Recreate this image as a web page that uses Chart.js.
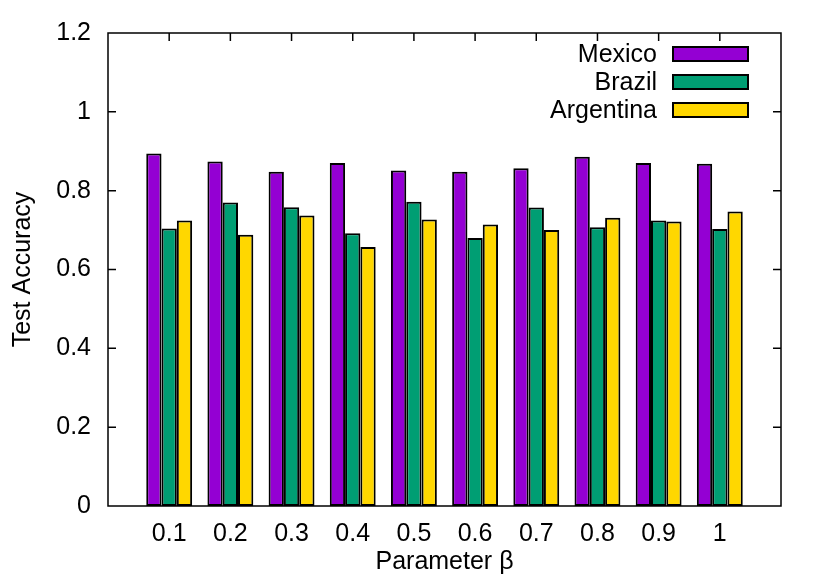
<!DOCTYPE html>
<html>
<head>
<meta charset="utf-8">
<script src="https://cdn.jsdelivr.net/npm/chart.js@4/dist/chart.umd.min.js"></script>
<style>
html,body{margin:0;padding:0;background:#fff;}
#wrap{width:830px;height:581px;position:relative;}
</style>
</head>
<body>
<div id="wrap"><canvas id="c" width="830" height="581"></canvas></div>
<script>
const categories = ['0.1','0.2','0.3','0.4','0.5','0.6','0.7','0.8','0.9','1'];
const mexico    = [0.894,0.874,0.848,0.870,0.851,0.848,0.857,0.886,0.870,0.868];
const brazil    = [0.704,0.770,0.758,0.692,0.772,0.680,0.757,0.707,0.724,0.703];
const argentina = [0.724,0.688,0.737,0.657,0.727,0.714,0.700,0.731,0.722,0.747];
const yTicks = ['0','0.2','0.4','0.6','0.8','1','1.2'];
const seriesNames = ['Mexico','Brazil','Argentina'];
const seriesColors = ['#9400D3','#009E73','#FFD700'];

const FONT = "'Liberation Sans', Arial, Helvetica, sans-serif";
const FS = 25;
Chart.defaults.font.family = FONT;
Chart.defaults.color = '#000';

function toPoints(arr){ return arr.map((v,i)=>({x:i+1,y:v})); }

const frame = {
  id:'frame',
  afterDatasetsDraw(chart){
    const {ctx, chartArea:a, scales} = chart;
    ctx.save();
    ctx.strokeStyle = '#000';
    ctx.lineWidth = 1.5;
    const tl = 8;
    for (let i=1;i<yTicks.length-1;i++){
      const py = scales.y.getPixelForValue(parseFloat(yTicks[i]));
      ctx.beginPath();
      ctx.moveTo(a.left, py); ctx.lineTo(a.left+tl, py);
      ctx.moveTo(a.right, py); ctx.lineTo(a.right-tl, py);
      ctx.stroke();
    }
    for (let i=0;i<categories.length;i++){
      const px = scales.x.getPixelForValue(i+1);
      ctx.beginPath();
      ctx.moveTo(px, a.top); ctx.lineTo(px, a.top+tl);
      ctx.stroke();
    }
    ctx.strokeRect(a.left, a.top, a.right-a.left, a.bottom-a.top);
    // legend
    ctx.font = FS + 'px ' + FONT;
    ctx.textAlign = 'right';
    ctx.textBaseline = 'middle';
    const ds = chart.data.datasets;
    for (let i=0;i<ds.length;i++){
      const cy = 54 + i*28;
      ctx.fillStyle = '#000';
      ctx.fillText(ds[i].label, 657, cy+1);
      ctx.fillStyle = ds[i].backgroundColor;
      ctx.fillRect(673, cy-7, 75, 14);
      ctx.lineWidth = 2;
      ctx.strokeRect(673, cy-7, 75, 14);
    }
    ctx.restore();
  }
};

new Chart(document.getElementById('c'), {
  type:'bar',
  data:{
    datasets:[
      {label:seriesNames[0], data:toPoints(mexico), backgroundColor:seriesColors[0]},
      {label:seriesNames[1], data:toPoints(brazil), backgroundColor:seriesColors[1]},
      {label:seriesNames[2], data:toPoints(argentina), backgroundColor:seriesColors[2]}
    ].map(d=>Object.assign(d,{borderColor:'#000',borderWidth:2,borderSkipped:false,categoryPercentage:0.75,barPercentage:1}))
  },
  options:{
    responsive:false,
    animation:false,
    devicePixelRatio:1,
    layout:{padding:{top:33,right:49,left:0,bottom:0}},
    plugins:{legend:{display:false},tooltip:{enabled:false}},
    scales:{
      x:{
        type:'linear', min:0, max:11, offset:false,
        grid:{display:false, drawTicks:false},
        border:{display:false},
        ticks:{stepSize:1, padding:13, font:{size:FS}, autoSkip:false, maxRotation:0,
          callback:(v)=> (v>=1 && v<=categories.length) ? categories[v-1] : ''},
        title:{display:true, text:'Parameter β', font:{size:FS}, padding:{top:0,bottom:4}},
        afterFit:(s)=>{ s.height = 75; }
      },
      y:{
        min:0, max:1.2,
        grid:{display:false, drawTicks:false},
        border:{display:false},
        ticks:{stepSize:0.2, padding:17, font:{size:FS},
          callback:(v)=>{ const i = Math.round(v/0.2); return yTicks[i]; }},
        title:{display:true, text:'Test Accuracy', font:{size:FS}, padding:{top:8,bottom:0}},
        afterFit:(s)=>{ s.width = 108; }
      }
    }
  },
  plugins:[frame]
});
</script>
</body>
</html>
